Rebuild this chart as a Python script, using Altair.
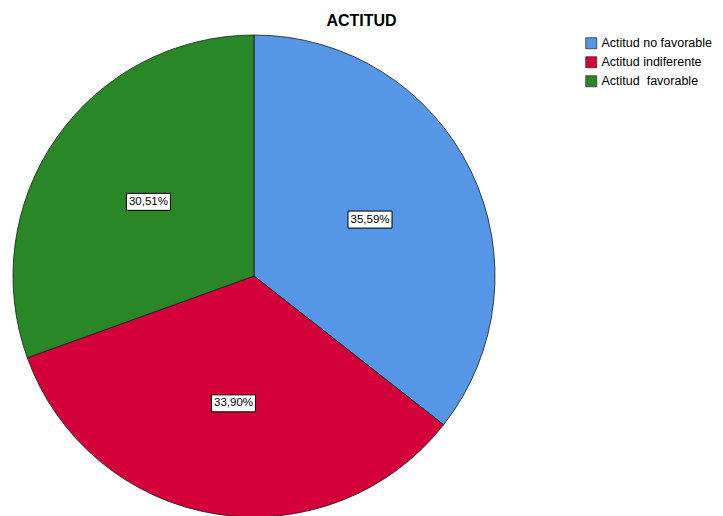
import altair as alt
import pandas as pd

categories = ["Actitud no favorable", "Actitud indiferente", "Actitud  favorable"]
values = [35.59, 33.90, 30.51]
labels = ["35,59%", "33,90%", "30,51%"]
colors = ["#5596e6", "#d4003a", "#2a8727"]

df = pd.DataFrame({"cat": categories, "value": values, "label": labels, "idx": [0, 1, 2]})

CX, CY, R, LR = 246, 238, 241, 129
FONT = "Arial, Liberation Sans, sans-serif"

pie = alt.Chart(df).mark_arc(stroke="#1a1a1a", strokeWidth=0.8, radius=R).encode(
    theta=alt.Theta("value:Q", stack=True),
    order=alt.Order("idx:Q"),
    color=alt.Color(
        "cat:N",
        scale=alt.Scale(domain=categories, range=colors),
        legend=alt.Legend(
            title=None, orient="none", legendX=577, legendY=-1,
            symbolType="square", symbolSize=121, symbolStrokeColor="#333333",
            symbolStrokeWidth=0.8, symbolOpacity=1,
            labelFont=FONT, labelFontSize=12.5, labelColor="#000000",
            labelOffset=4, rowPadding=4, labelLimit=200,
            labelExpr="replace(datum.label, '  ', ' \u00a0')",
        ),
    ),
    x=alt.value(CX),
    y=alt.value(CY),
)

lab = alt.Chart(df).transform_joinaggregate(
    total="sum(value)"
).transform_window(
    cum="sum(value)", sort=[alt.SortField("idx")], frame=[None, 0]
).transform_calculate(
    mid="(datum.cum - datum.value/2) / datum.total * 2 * PI"
).transform_calculate(
    lx=f"{CX} + {LR} * sin(datum.mid)",
    ly=f"{CY} - {LR} * cos(datum.mid)",
)

box = lab.mark_point(
    shape="M-1,-0.386H1V0.386H-1Z", size=1936, filled=True, fill="white",
    stroke="black", strokeWidth=1, opacity=1,
).encode(
    x=alt.X("lx:Q", scale=None),
    y=alt.Y("ly:Q", scale=None),
)

txt = lab.mark_text(font=FONT, fontSize=11.5, color="black", baseline="middle", align="center").encode(
    x=alt.X("lx:Q", scale=None),
    y=alt.Y("ly:Q", scale=None),
    text="label:N",
)

chart = alt.layer(pie, box, txt).properties(
    width=707, height=478,
    title=alt.TitleParams("ACTITUD", font=FONT, fontSize=16, fontWeight="bold",
                          color="black", anchor="middle", offset=4),
    autosize=alt.AutoSizeParams(type="none"),
    padding={"left": 0, "top": 30, "right": 0, "bottom": 0},
).configure_view(stroke=None)

chart.save("out.html", embed_options={"renderer": "svg", "actions": False})
